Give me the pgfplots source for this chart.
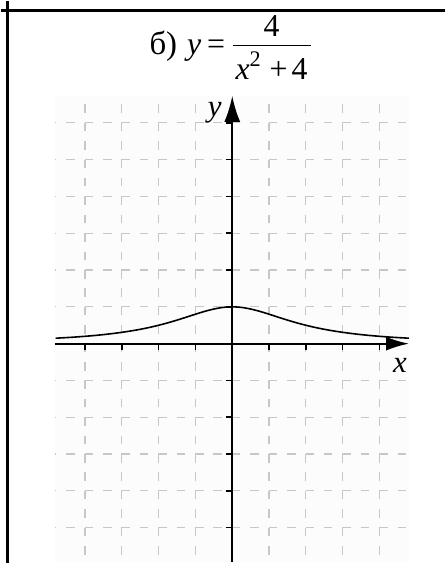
\documentclass[border=0pt]{standalone}
\usepackage{fontspec}
\setmainfont{Liberation Serif}
\usepackage{pgfplots}
\pgfplotsset{compat=1.18}
\usetikzlibrary{arrows.meta}

\begin{document}
\begin{tikzpicture}
\begin{axis}[
    x=18.5pt, y=18.5pt,
    xmin=-4.81, xmax=4.8, ymin=-5.93, ymax=6.73,
    axis lines=middle,
    axis line style={line width=0.9pt},
    x axis line style={-{Latex[length=11.5pt,width=7pt]}},
    y axis line style={-{Latex[length=13pt,width=8pt]}},
    axis background/.style={fill=black!1},
    xtick={-4,-3,-2,-1,1,2,3,4},
    ytick={-5,-4,-3,-2,-1,1,2,3,4,5,6},
    xticklabels={}, yticklabels={},
    tick align=outside,
    major tick length=3.2pt,
    tick style={line width=0.8pt, black},
    grid=major,
    major grid style={black!22, line width=0.6pt},
    x grid style={dash pattern=on 4.25pt off 5pt, dash phase=5.55pt},
    y grid style={dash pattern=on 4.25pt off 5pt, dash phase=3.7pt},
    xlabel={\fontsize{15.5pt}{18pt}\selectfont\itshape x},
    xlabel style={at={(0.9746,0.406)}, anchor=base, inner sep=0pt},
    ylabel={\fontsize{15.5pt}{18pt}\selectfont\itshape y},
    ylabel style={at={(0.4506,0.955)}, anchor=base, inner sep=0pt},
    title={\fontsize{16pt}{19pt}\selectfont{\fontsize{16.5pt}{19pt}\selectfont б)}\hspace{5pt}\textit{y}\hspace{3pt}=\hspace{2.5pt}$\displaystyle\frac{\raisebox{-2.45pt}{\fontsize{16pt}{18pt}\selectfont 4}}{\raisebox{-0.65pt}{\hspace{1.5pt}\textit{x}\textsuperscript{2}\hspace{4pt}+\hspace{2pt}4\hspace{1.5pt}}}$},
    title style={at={(0.2655,1)}, anchor=base west, yshift=14.85pt, inner sep=0pt},
    clip=false,
]
% y = 4/(x^2+4)
\addplot[black, line width=0.8pt, smooth] coordinates {
    (-4.8,0.148)(-4.5,0.165)(-4.25,0.181)(-4,0.2)(-3.75,0.221)(-3.5,0.246)
    (-3.25,0.275)(-3,0.308)(-2.75,0.346)(-2.5,0.39)(-2.25,0.441)(-2,0.5)
    (-1.75,0.566)(-1.5,0.64)(-1.25,0.719)(-1,0.8)(-0.75,0.877)(-0.5,0.941)
    (-0.25,0.985)(0,1)(0.25,0.985)(0.5,0.941)(0.75,0.877)(1,0.8)
    (1.25,0.719)(1.5,0.64)(1.75,0.566)(2,0.5)(2.25,0.441)(2.5,0.39)
    (2.75,0.346)(3,0.308)(3.25,0.275)(3.5,0.246)(3.75,0.221)(4,0.2)
    (4.25,0.181)(4.5,0.165)(4.8,0.148)
};
% table cell borders
\draw[line width=1.5pt] (axis cs:-6.095,9.297) -- (axis cs:-6.095,-5.946);
\draw[line width=1.5pt] (axis cs:-6.27,9.054) -- (axis cs:5.784,9.054);
\end{axis}
\end{tikzpicture}
\end{document}
